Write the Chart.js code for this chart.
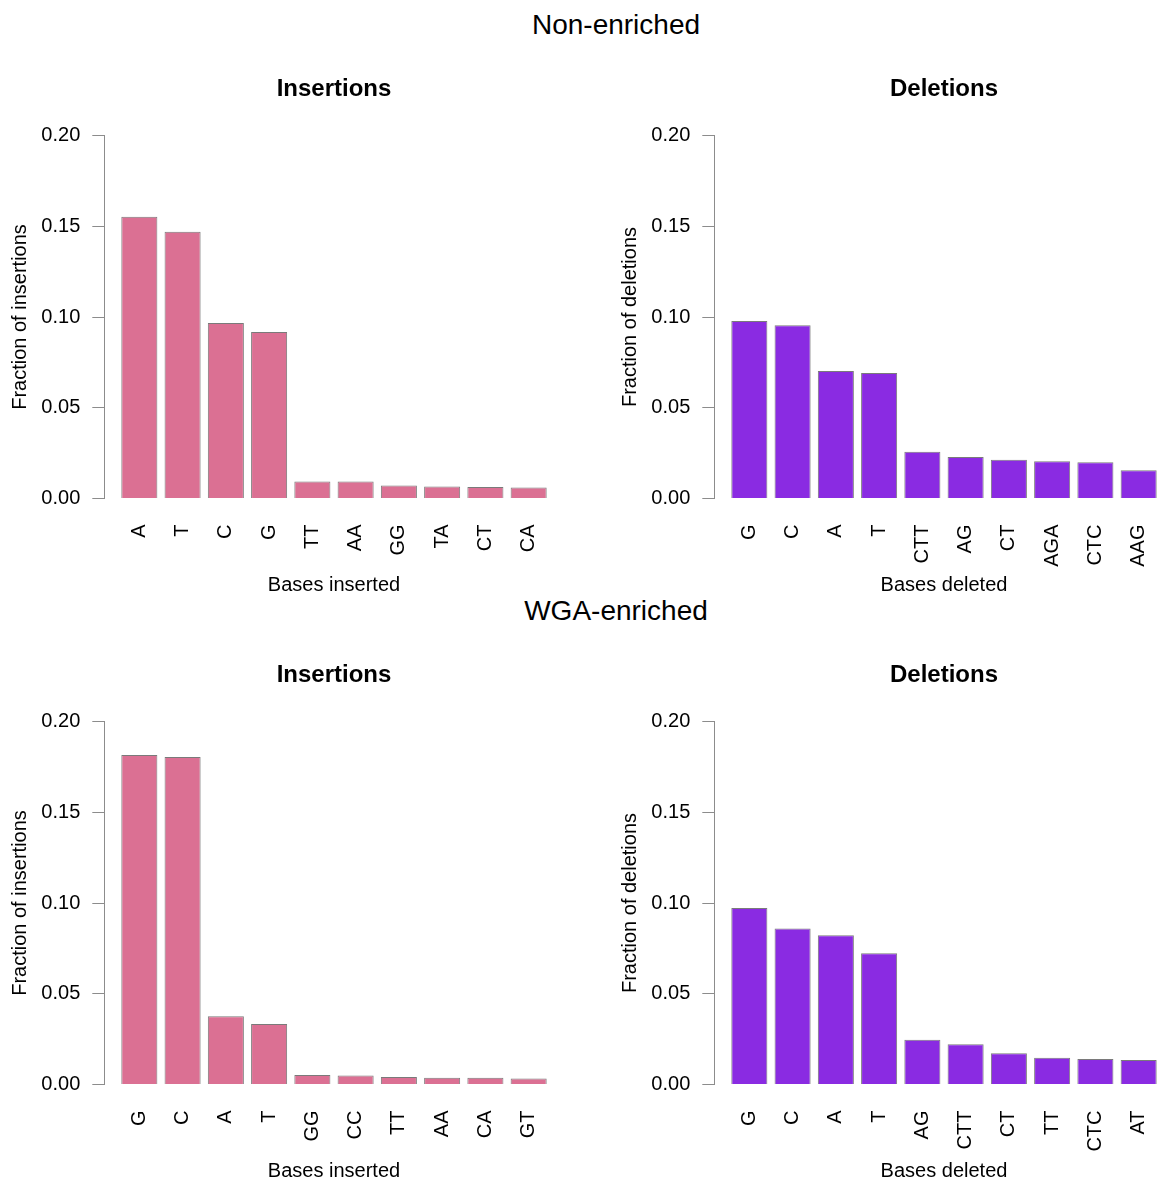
<!DOCTYPE html>
<html>
<head>
<meta charset="utf-8">
<title>Insertions and deletions</title>
<script src="https://cdn.jsdelivr.net/npm/chart.js@4.4.1/dist/chart.umd.min.js"></script>
<style>
  html, body { margin: 0; padding: 0; background: #fff; overflow: hidden; width: 1157px; height: 1181px; }
  body { position: relative; font-family: "Liberation Sans", Arial, Helvetica, sans-serif; }
  .section { position: absolute; left: 0; width: 1232px; text-align: center; font-size: 28px; line-height: 1; color: #000; }
  canvas { position: absolute; }
</style>
</head>
<body>
<div class="section" style="top:11px">Non-enriched</div>
<div class="section" style="top:597px">WGA-enriched</div>
<canvas id="niIns" width="610" height="548" style="left:0;top:50px;width:610px;height:548px"></canvas>
<canvas id="niDel" width="610" height="548" style="left:610px;top:50px;width:610px;height:548px"></canvas>
<canvas id="wgaIns" width="610" height="548" style="left:0;top:636px;width:610px;height:548px"></canvas>
<canvas id="wgaDel" width="610" height="548" style="left:610px;top:636px;width:610px;height:548px"></canvas>
<script>
// Non-enriched
const niInsLabels = ['A', 'T', 'C', 'G', 'TT', 'AA', 'GG', 'TA', 'CT', 'CA'];
const niInsValues = [0.1552, 0.1470, 0.0967, 0.0917, 0.0094, 0.0093, 0.0071, 0.0066, 0.0063, 0.0060];
const niDelLabels = ['G', 'C', 'A', 'T', 'CTT', 'AG', 'CT', 'AGA', 'CTC', 'AAG'];
const niDelValues = [0.0978, 0.0955, 0.0702, 0.0691, 0.0257, 0.0228, 0.0213, 0.0205, 0.0200, 0.0156];

// WGA-enriched
const wgaInsLabels = ['G', 'C', 'A', 'T', 'GG', 'CC', 'TT', 'AA', 'CA', 'GT'];
const wgaInsValues = [0.1815, 0.1805, 0.0376, 0.0334, 0.0053, 0.0050, 0.0042, 0.0037, 0.0037, 0.0033];
const wgaDelLabels = ['G', 'C', 'A', 'T', 'AG', 'CTT', 'CT', 'TT', 'CTC', 'AT'];
const wgaDelValues = [0.0972, 0.0860, 0.0822, 0.0723, 0.0247, 0.0222, 0.0172, 0.0147, 0.0141, 0.0135];

const yTicks = [0, 0.05, 0.10, 0.15, 0.20];

const insColor = '#DB7093';
const delColor = '#8A2BE2';
const axisGrey = '#8c8c8c';
const fontFamily = '"Liberation Sans", Arial, Helvetica, sans-serif';

function makePanel(id, labels, values, color, title, yTitle, xTitle) {
    const ctx = document.getElementById(id).getContext('2d');
    return new Chart(ctx, {
        type: 'bar',
        data: {
            datasets: [{
                data: labels.map((l, i) => ({ x: i, y: values[i] })),
                backgroundColor: color,
                borderColor: '#7a7a7a',
                borderWidth: 1,
                categoryPercentage: 1,
                barPercentage: 1 / 1.2
            }]
        },
        options: {
            responsive: false,
            animation: false,
            devicePixelRatio: 1,
            layout: { padding: { left: 0, right: 46.3, top: 0, bottom: 0 } },
            plugins: {
                legend: { display: false },
                tooltip: { enabled: false },
                title: {
                    display: true,
                    text: title,
                    fullSize: false,
                    color: '#000',
                    font: { family: fontFamily, size: 24, weight: 'bold', lineHeight: 1.2 },
                    padding: { top: 24.6, bottom: 32.1 }
                }
            },
            scales: {
                x: {
                    type: 'linear',
                    min: -0.81,
                    max: 9.81,
                    offset: false,
                    grid: { display: false, drawTicks: false },
                    border: { display: false },
                    ticks: {
                        stepSize: 1,
                        includeBounds: false,
                        autoSkip: false,
                        minRotation: 90,
                        maxRotation: 90,
                        padding: 26,
                        color: '#000',
                        font: { family: fontFamily, size: 20 },
                        callback: (v) => labels[v] !== undefined ? labels[v] : ''
                    },
                    title: {
                        display: true,
                        text: xTitle,
                        color: '#000',
                        font: { family: fontFamily, size: 20, lineHeight: 1.2 },
                        padding: { top: 0, bottom: 0.2 }
                    },
                    afterFit: (scale) => { scale.height = 99.5; }
                },
                y: {
                    min: 0,
                    max: 0.2,
                    grid: {
                        display: true,
                        drawOnChartArea: false,
                        drawTicks: true,
                        tickLength: 12,
                        color: axisGrey
                    },
                    border: { display: true, color: axisGrey, width: 1 },
                    afterBuildTicks: (scale) => { scale.ticks = yTicks.map(v => ({ value: v })); },
                    ticks: {
                        padding: 12,
                        color: '#000',
                        font: { family: fontFamily, size: 20 },
                        callback: (v) => Number(v).toFixed(2)
                    },
                    title: {
                        display: true,
                        text: yTitle,
                        color: '#000',
                        font: { family: fontFamily, size: 20, lineHeight: 1.2 },
                        padding: { top: 8, bottom: 0 }
                    },
                    afterFit: (scale) => { scale.width = 104.3; }
                }
            }
        }
    });
}

makePanel('niIns', niInsLabels, niInsValues, insColor, 'Insertions', 'Fraction of insertions', 'Bases inserted');
makePanel('niDel', niDelLabels, niDelValues, delColor, 'Deletions', 'Fraction of deletions', 'Bases deleted');
makePanel('wgaIns', wgaInsLabels, wgaInsValues, insColor, 'Insertions', 'Fraction of insertions', 'Bases inserted');
makePanel('wgaDel', wgaDelLabels, wgaDelValues, delColor, 'Deletions', 'Fraction of deletions', 'Bases deleted');
</script>
</body>
</html>
